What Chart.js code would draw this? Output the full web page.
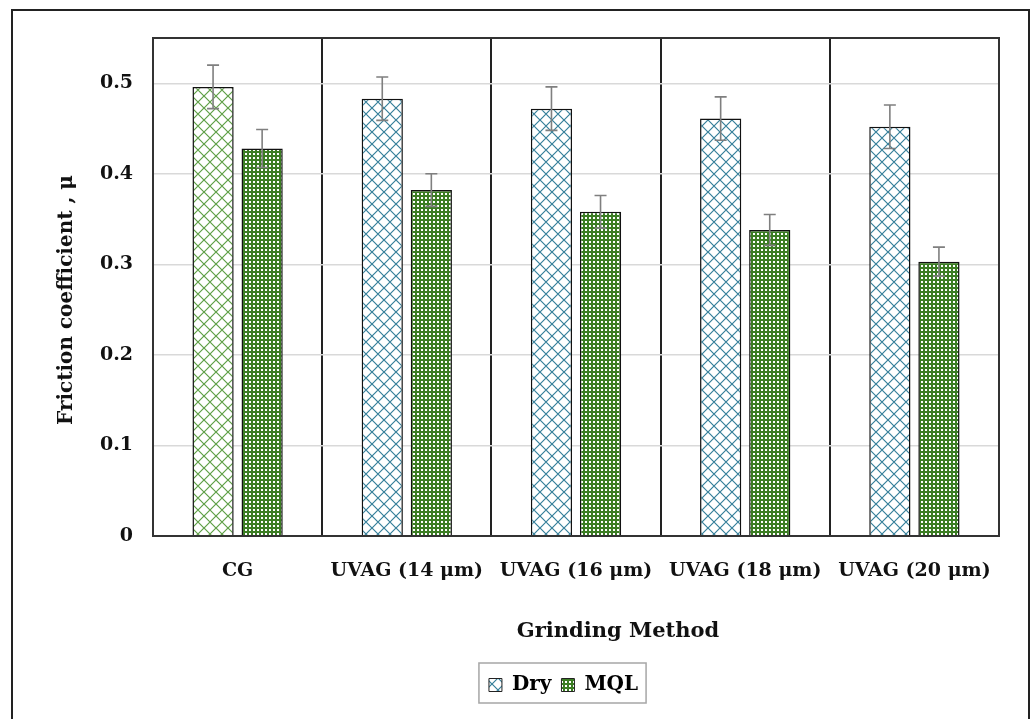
<!DOCTYPE html>
<html>
<head>
<meta charset="utf-8">
<script src="https://cdn.jsdelivr.net/npm/chart.js"></script>
<style>
  body { margin: 0; background: #fff; }
  #wrap { position: relative; width: 1033px; height: 719px; }
  #frame {
    position: absolute; left: 11px; top: 9px; width: 1015px; height: 720px;
    border: 2px solid #222; border-bottom: none; pointer-events: none;
  }
</style>
</head>
<body>
<div id="wrap">
  <canvas id="frictionChart"></canvas>
  <div id="frame"></div>
</div>
<script>
// DATA
const categories = ['CG', 'UVAG (14 μm)', 'UVAG (16 μm)', 'UVAG (18 μm)', 'UVAG (20 μm)'];
const dryValues = [0.496, 0.483, 0.472, 0.461, 0.452];
const dryErrors = [0.024, 0.024, 0.024, 0.024, 0.024];
const mqlValues = [0.428, 0.382, 0.358, 0.338, 0.303];
const mqlErrors = [0.021, 0.018, 0.018, 0.017, 0.016];
const yTicks = [0, 0.1, 0.2, 0.3, 0.4, 0.5];

const FONT = '"DejaVu Serif", "Liberation Serif", serif';

// PATTERNS
function crossPattern(color) {
    const c = document.createElement('canvas');
    c.width = 12; c.height = 12;
    const g = c.getContext('2d');
    g.fillStyle = '#fff';
    g.fillRect(0, 0, 12, 12);
    g.strokeStyle = color;
    g.lineWidth = 1.2;
    g.beginPath();
    g.moveTo(0, 0); g.lineTo(12, 12);
    g.moveTo(12, 0); g.lineTo(0, 12);
    g.stroke();
    return g.createPattern(c, 'repeat');
}
function checkPattern(color) {
    const c = document.createElement('canvas');
    c.width = 4; c.height = 4;
    const g = c.getContext('2d');
    g.fillStyle = color;
    g.fillRect(0, 0, 4, 4);
    g.fillStyle = '#fff';
    g.fillRect(1, 1, 2, 2);
    return g.createPattern(c, 'repeat');
}
const cgPattern = crossPattern('#5e9f46');
const dryPattern = crossPattern('#357f9a');
const mqlPattern = checkPattern('#3b7d23');

// PLUGINS
const errorBars = {
    id: 'errorBars',
    afterDatasetsDraw(chart) {
        const { ctx, scales: { y } } = chart;
        ctx.save();
        ctx.strokeStyle = '#7f7f7f';
        ctx.lineWidth = 1.6;
        chart.data.datasets.forEach((ds, i) => {
            chart.getDatasetMeta(i).data.forEach((bar, j) => {
                const top = y.getPixelForValue(ds.data[j] + ds.errors[j]);
                const bot = y.getPixelForValue(ds.data[j] - ds.errors[j]);
                ctx.beginPath();
                ctx.moveTo(bar.x, top); ctx.lineTo(bar.x, bot);
                ctx.moveTo(bar.x - 6, top); ctx.lineTo(bar.x + 6, top);
                ctx.moveTo(bar.x - 6, bot); ctx.lineTo(bar.x + 6, bot);
                ctx.stroke();
            });
        });
        ctx.restore();
    }
};

// legend sits under the plot centre, not the canvas centre
const legendShift = {
    id: 'legendShift',
    afterLayout(chart) {
        chart.legend.left = 128;
        chart.legend.right = 999;
    }
};

const frameAndTitles = {
    id: 'frameAndTitles',
    afterDraw(chart) {
        const { ctx, chartArea: a } = chart;
        ctx.save();
        ctx.strokeStyle = '#333';
        ctx.lineWidth = 2;
        ctx.strokeRect(a.left, a.top, a.right - a.left, a.bottom - a.top);

        // axis titles
        ctx.fillStyle = '#111';
        ctx.textAlign = 'center';
        ctx.textBaseline = 'middle';
        ctx.font = 'bold 21px ' + FONT;
        ctx.fillText('Grinding Method', 618, 632);
        ctx.font = 'bold 20px ' + FONT;
        ctx.translate(67, 300);
        ctx.rotate(-Math.PI / 2);
        ctx.fillText('Friction coefficient , μ', 0, 0);
        ctx.restore();

        // legend box
        const boxes = chart.legend.legendHitBoxes;
        if (boxes && boxes.length) {
            const l = Math.min(...boxes.map(b => b.left)) - 10;
            const r = Math.max(...boxes.map(b => b.left + b.width)) + 8;
            ctx.save();
            ctx.strokeStyle = '#a6a6a6';
            ctx.lineWidth = 1.5;
            ctx.strokeRect(l, 663, r - l, 40);
            ctx.restore();
        }
    }
};

// CHART
new Chart(document.getElementById('frictionChart'), {
    type: 'bar',
    data: {
        labels: categories,
        datasets: [
            {
                label: 'Dry',
                data: dryValues,
                errors: dryErrors,
                backgroundColor: [cgPattern, dryPattern, dryPattern, dryPattern, dryPattern],
                borderColor: '#111',
                borderWidth: 1.5,
                categoryPercentage: 0.58,
                barPercentage: 0.84
            },
            {
                label: 'MQL',
                data: mqlValues,
                errors: mqlErrors,
                backgroundColor: mqlPattern,
                borderColor: '#111',
                borderWidth: 1.5,
                categoryPercentage: 0.58,
                barPercentage: 0.84
            }
        ]
    },
    options: {
        responsive: true,
        maintainAspectRatio: false,
        animation: false,
        layout: { padding: { left: 0, right: 34, top: 38, bottom: 14 } },
        plugins: {
            tooltip: { enabled: false },
            legend: {
                position: 'bottom',
                labels: {
                    color: '#111',
                    font: { family: FONT, size: 20, weight: 'bold' },
                    boxWidth: 13,
                    boxHeight: 13,
                    padding: 10,
                    generateLabels: () => [
                        { text: 'Dry', fillStyle: dryPattern, strokeStyle: '#222', lineWidth: 1, datasetIndex: 0 },
                        { text: 'MQL', fillStyle: mqlPattern, strokeStyle: '#222', lineWidth: 1, datasetIndex: 1 }
                    ]
                }
            }
        },
        scales: {
            x: {
                afterFit: s => { s.height = 129; },
                grid: { color: '#222', lineWidth: 2, drawTicks: false, offset: true },
                border: { color: '#222', width: 2 },
                ticks: {
                    color: '#111',
                    padding: 24,
                    maxRotation: 0,
                    autoSkip: false,
                    font: { family: FONT, size: 19, weight: 'bold' }
                }
            },
            y: {
                min: 0,
                max: 0.55,
                afterFit: s => { s.width = 153; },
                afterBuildTicks: s => { s.ticks = yTicks.map(v => ({ value: v })); },
                grid: { color: '#d9d9d9', lineWidth: 1.5, drawTicks: false },
                border: { color: '#222', width: 2 },
                ticks: {
                    color: '#111',
                    padding: 20,
                    font: { family: FONT, size: 19, weight: 'bold' },
                    callback: v => v === 0 ? '0' : v.toFixed(1)
                }
            }
        }
    },
    plugins: [errorBars, legendShift, frameAndTitles]
});
</script>
</body>
</html>
